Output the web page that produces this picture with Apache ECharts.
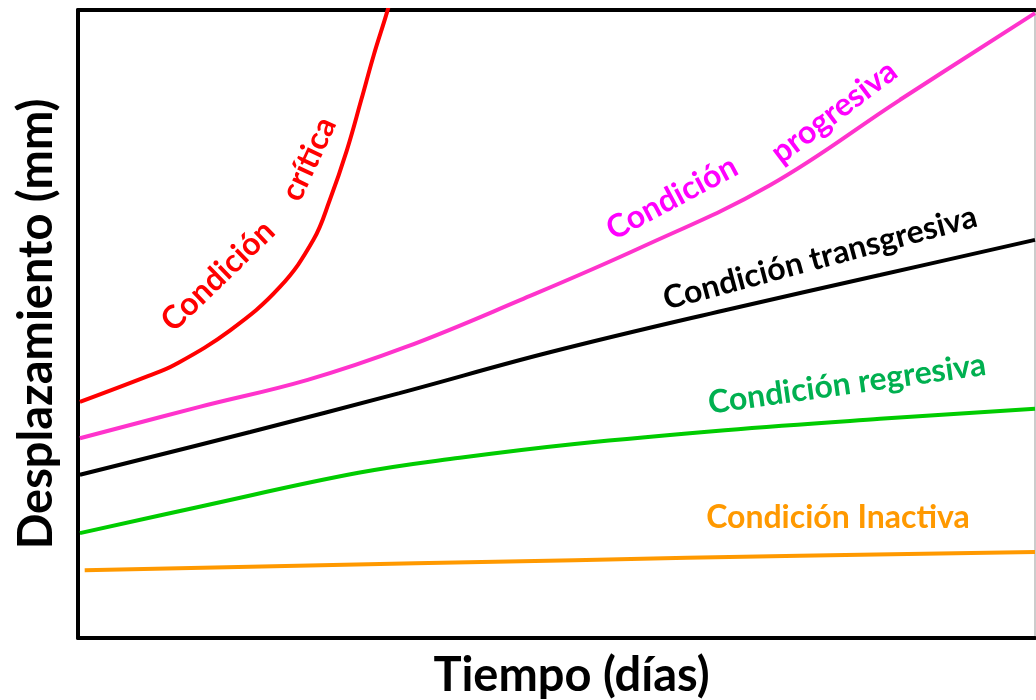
<!DOCTYPE html>
<html>
<head>
<meta charset="utf-8">
<script src="https://cdn.jsdelivr.net/npm/echarts@6/dist/echarts.min.js"></script>
<style>
html, body { margin: 0; padding: 0; background: #fff; }
#main { width: 1036px; height: 700px; }
</style>
</head>
<body>
<div id="main"></div>
<script>
// valores (tiempo 0-100, desplazamiento 0-100, unidades relativas)
var xCritica = [0.2, 7.3, 10.1, 15.9, 21.1, 24.6, 26.3, 28.1, 29.6, 30.9, 32.3, 32.9];
var yCritica = [37.6, 41.7, 43.5, 49.0, 55.9, 63.4, 69.7, 77.7, 85.7, 92.8, 99.7, 103.2];

var xProgresiva = [0.2, 12.7, 24.0, 34.2, 46.2, 58.7, 72.3, 85.9, 100];
var yProgresiva = [31.8, 36.8, 41.1, 46.3, 53.8, 62.1, 72.1, 85.7, 99.5];

var xTransgresiva = [0.2, 18.0, 33.6, 49.3, 67.6, 83.8, 100];
var yTransgresiva = [26.0, 32.8, 39.0, 45.5, 52.2, 57.8, 63.4];

var xRegresiva = [0.2, 12.7, 29.3, 39.9, 51.9, 67.6, 83.8, 100];
var yRegresiva = [16.7, 20.9, 26.3, 28.7, 30.9, 33.1, 34.9, 36.5];

var xInactiva = [0.7, 51.9, 75.4, 100];
var yInactiva = [10.8, 12.4, 13.1, 13.7];

var fuente = 'Lato, "Open Sans", sans-serif';

function pares(xs, ys) {
	return xs.map(function(x, i) {
		return [x, ys[i]];
	});
}

function serie(nombre, xs, ys, color) {
	return {
		name: nombre,
		type: 'line',
		smooth: 0.4,
		symbol: 'none',
		clip: true,
		lineStyle: { color: color, width: 4 },
		data: pares(xs, ys)
	};
}

function etiqueta(texto, x, y, grados, color) {
	return {
		type: 'text',
		x: x,
		y: y,
		rotation: grados * Math.PI / 180,
		style: {
			text: texto,
			fill: color,
			font: 'bold 32px ' + fuente,
			textAlign: 'center',
			textVerticalAlign: 'middle'
		}
	};
}

var myChart = echarts.init(document.getElementById('main'));
var option = {
	backgroundColor: '#fff',
	animation: false,
	grid: {
		left: 78, right: 1, top: 10, bottom: 62,
		outerBoundsMode: 'none',
		containLabel: false,
		show: true, borderColor: '#999', borderWidth: 1
	},
	xAxis: [{
		type: 'value', min: 0, max: 100,
		name: 'Tiempo (días)',
		nameLocation: 'middle',
		nameGap: 14,
		nameTextStyle: { fontFamily: fuente, fontWeight: 'bold', fontSize: 47, color: '#000', padding: [0, 0, 0, 30], verticalAlign: 'top' },
		axisLine: { show: true, lineStyle: { color: '#000', width: 4 } },
		axisTick: { show: false },
		axisLabel: { show: false },
		splitLine: { show: false }
	}, {
		type: 'value', min: 0, max: 100, position: 'top',
		axisLine: { show: true, lineStyle: { color: '#000', width: 4 } },
		axisTick: { show: false },
		axisLabel: { show: false },
		splitLine: { show: false }
	}],
	yAxis: {
		type: 'value', min: 0, max: 100,
		name: 'Desplazamiento (mm)',
		nameLocation: 'middle',
		nameGap: 18,
		nameTextStyle: { fontFamily: fuente, fontWeight: 'bold', fontSize: 47, color: '#000' },
		axisLine: { show: true, lineStyle: { color: '#000', width: 4 } },
		axisTick: { show: false },
		axisLabel: { show: false },
		splitLine: { show: false }
	},
	series: [
		serie('Condición Inactiva', xInactiva, yInactiva, '#ff9900'),
		serie('Condición regresiva', xRegresiva, yRegresiva, '#00cc00'),
		serie('Condición transgresiva', xTransgresiva, yTransgresiva, '#000000'),
		serie('Condición progresiva', xProgresiva, yProgresiva, '#ff33cc'),
		serie('Condición crítica', xCritica, yCritica, '#ff0000')
	],
	graphic: [
		etiqueta('Condición', 218, 276, 44, '#ff0000'),
		etiqueta('crítica', 309, 159, 65, '#ff0000'),
		etiqueta('Condición', 672, 198, 28, '#ff00ff'),
		etiqueta('progresiva', 834, 112, 37, '#ff00ff'),
		etiqueta('Condición transgresiva', 820, 258, 15, '#000000'),
		etiqueta('Condición regresiva', 847, 384, 8, '#00b050'),
		etiqueta('Condición Inactiva', 838, 518, 0, '#ff9900')
	]
};
myChart.setOption(option);
</script>
</body>
</html>
